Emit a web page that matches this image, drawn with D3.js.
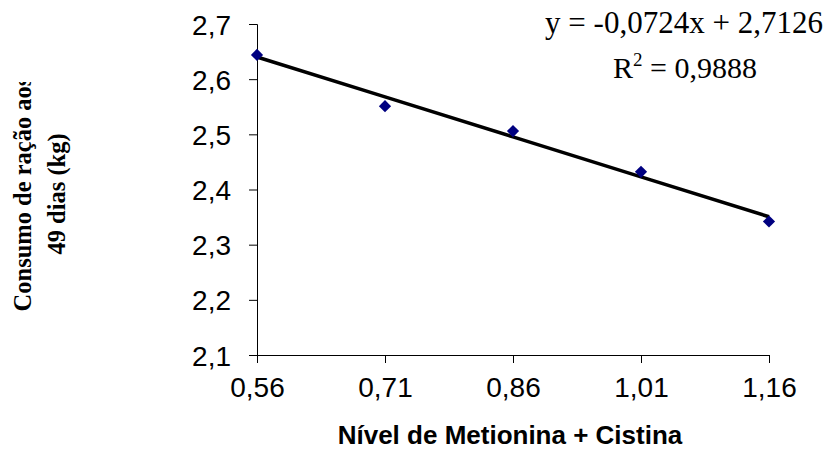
<html>
    <head>
        <script src="https://d3js.org/d3.v7.min.js"></script>
        <style>
            body {
                margin: 0;
                background: white;
            }
        </style>
    </head>
    <body>
        <svg id="chart" width="827" height="452"></svg>

        <script>
            // data
            const xLabels = ["0,56", "0,71", "0,86", "1,01", "1,16"];
            const levels = [0.56, 0.71, 0.86, 1.01, 1.16];
            const consumo = [2.644, 2.551, 2.506, 2.432, 2.342];
            const yTicks = [2.1, 2.2, 2.3, 2.4, 2.5, 2.6, 2.7];
            // trend line, Excel style (x = 1..5)
            const slope = -0.0724;
            const intercept = 2.7126;
            const eqText = "y = -0,0724x + 2,7126";
            const r2Text = " = 0,9888";

            const svg = d3.select("#chart");
            const margin = { top: 24, right: 58, bottom: 97, left: 257 };
            const width = 827 - margin.left - margin.right;
            const height = 452 - margin.top - margin.bottom;

            const plot = svg.append("g")
                            .attr("transform", "translate(" + margin.left + "," + margin.top + ")");

            const x = d3.scaleLinear().domain([0.56, 1.16]).range([0, width]);
            const y = d3.scaleLinear().domain([2.1, 2.7]).range([height, 0]);

            const fmt = d => d.toFixed(1).replace(".", ",");

            const yAxis = plot.append("g")
                .call(d3.axisLeft(y).tickValues(yTicks).tickFormat(fmt).tickSize(8).tickPadding(18));
            yAxis.selectAll("text")
                 .style("font-family", "'Liberation Sans', Arial, sans-serif")
                 .style("font-size", "28px")
                 .attr("fill", "black")
                 .attr("dy", "0.36em");

            const xAxis = plot.append("g")
                .attr("transform", "translate(0," + height + ")")
                .call(d3.axisBottom(x).tickValues(levels).tickFormat((d, i) => xLabels[i]).tickSize(8).tickPadding(14));
            xAxis.selectAll("text")
                 .style("font-family", "'Liberation Sans', Arial, sans-serif")
                 .style("font-size", "28px")
                 .attr("fill", "black");

            svg.selectAll(".domain, .tick line").attr("stroke", "black").attr("stroke-width", 1);

            // trend line
            const trend = levels.map((d, i) => [d, intercept + slope * (i + 1)]);
            plot.append("path")
                .datum(trend)
                .attr("fill", "none")
                .attr("stroke", "black")
                .attr("stroke-width", 3.5)
                .attr("d", d3.line().x(d => x(d[0])).y(d => y(d[1])));

            // points
            plot.selectAll("path.pt").data(levels)
                .join("path")
                .attr("class", "pt")
                .attr("d", d3.symbol(d3.symbolDiamond2, 95))
                .attr("transform", (d, i) => "translate(" + x(d) + "," + y(consumo[i]) + ")")
                .attr("fill", "#000080");

            // equation
            svg.append("text")
               .attr("x", 684)
               .attr("y", 33)
               .attr("text-anchor", "middle")
               .style("font-family", "'Liberation Serif', 'Times New Roman', serif")
               .style("font-size", "31px")
               .text(eqText);

            const r2 = svg.append("text")
               .attr("x", 685)
               .attr("y", 78)
               .attr("text-anchor", "middle")
               .style("font-family", "'Liberation Serif', 'Times New Roman', serif")
               .style("font-size", "30px");
            r2.append("tspan").text("R");
            r2.append("tspan").attr("dy", -12).style("font-size", "19px").text("2");
            r2.append("tspan").attr("dy", 12).text(r2Text);

            // axis titles
            svg.append("text")
               .attr("x", 510)
               .attr("y", 444)
               .attr("text-anchor", "middle")
               .style("font-family", "'Liberation Sans', Arial, sans-serif")
               .style("font-weight", "bold")
               .style("font-size", "26px")
               .text("Nível de Metionina + Cistina");

            svg.append("clipPath").attr("id", "ytclip")
               .append("rect").attr("x", 0).attr("y", 82).attr("width", 120).attr("height", 370);

            const yTitle = svg.append("g").attr("clip-path", "url(#ytclip)")
               .append("text")
               .attr("transform", "translate(31,194) rotate(-90)")
               .attr("text-anchor", "middle")
               .style("font-family", "'Liberation Serif', 'Times New Roman', serif")
               .style("font-weight", "bold")
               .style("font-size", "24.5px");
            yTitle.append("tspan").attr("x", 0).attr("dy", 0).text("Consumo de ração aos");
            yTitle.append("tspan").attr("x", 0).attr("dy", 34).text("49 dias (kg)");
        </script>
    </body>
</html>
